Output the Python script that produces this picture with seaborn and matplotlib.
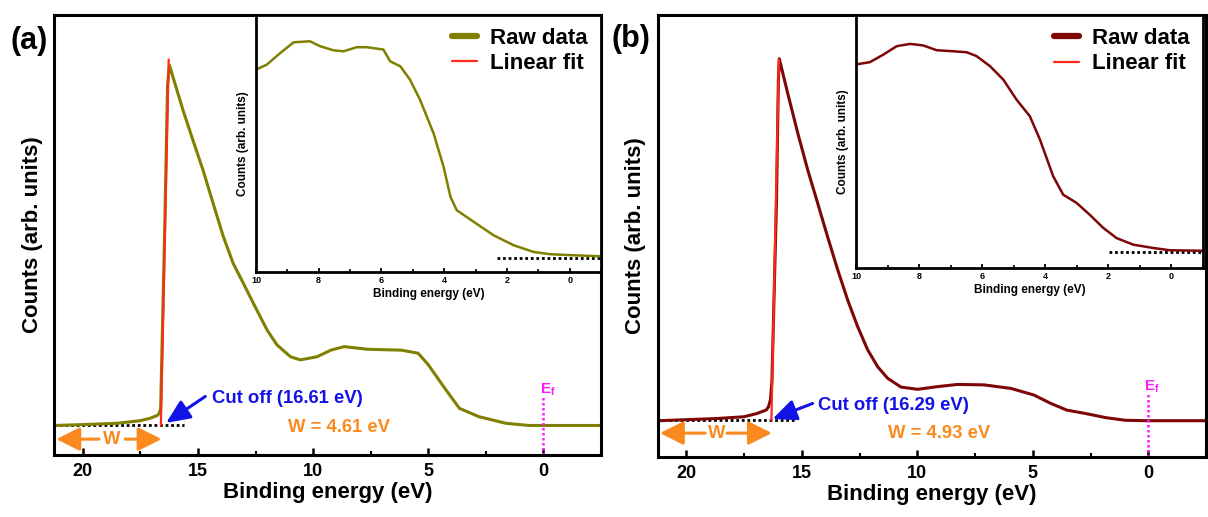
import matplotlib
matplotlib.use('Agg')
import matplotlib.pyplot as plt
import seaborn as sns
from matplotlib.lines import Line2D
from matplotlib.ticker import MultipleLocator, NullLocator

sns.set_theme(style='white')
plt.rcParams['font.family'] = ['Liberation Sans', 'DejaVu Sans']
plt.rcParams['font.weight'] = 'bold'
plt.rcParams['axes.labelweight'] = 'bold'
plt.rcParams['text.color'] = 'black'
plt.rcParams['axes.labelcolor'] = 'black'
plt.rcParams['xtick.color'] = 'black'
plt.rcParams['ytick.color'] = 'black'
plt.rcParams['mathtext.fontset'] = 'custom'
plt.rcParams['mathtext.rm'] = 'Liberation Sans:bold'
plt.rcParams['mathtext.it'] = 'Liberation Sans:bold'
plt.rcParams['mathtext.bf'] = 'Liberation Sans:bold'

# ---------------- data ----------------
# Panel (a) main spectrum
a_energy = [21.25, 20.0, 18.5, 17.5, 17.1, 16.75, 16.68, 16.62, 16.45, 16.32, 16.24, 15.65, 15.22,
            14.78, 14.34, 13.9, 13.47, 13.03, 12.59, 12.0, 11.57, 10.98, 10.55, 9.83, 9.23, 8.65,
            7.63, 6.17, 5.44, 5.0, 4.33, 3.65, 2.8, 1.63, 0.62, -1.0, -2.5]
a_counts = [6.7, 6.9, 7.2, 7.8, 8.3, 9.0, 9.5, 10.5, 50.0, 84.0, 88.5, 78.3, 71.5,
            64.7, 57.1, 49.6, 43.5, 39.0, 34.4, 28.4, 25.0, 22.3, 21.6, 22.3, 23.8, 24.6,
            24.0, 23.8, 23.1, 20.5, 15.5, 10.6, 8.7, 7.2, 6.7, 6.7, 6.7]
a_fit_energy = [16.61, 16.27]
a_fit_counts = [6.7, 89.8]
# Panel (a) inset spectrum
a_in_energy = [10.0, 9.66, 9.23, 8.8, 8.28, 7.96, 7.53, 7.21, 6.79, 6.47, 5.94, 5.72, 5.4, 5.09,
               4.77, 4.34, 4.02, 3.8, 3.6, 3.06, 2.43, 1.79, 1.15, 0.62, -0.13, -1.0]
a_in_counts = [78.6, 80.5, 85.0, 89.2, 89.6, 87.7, 86.1, 85.7, 87.3, 87.3, 86.4, 81.8, 79.9, 74.7,
               66.9, 53.9, 40.9, 29.2, 24.0, 19.5, 14.3, 10.4, 7.8, 6.9, 6.5, 6.1]

# Panel (b) main spectrum
b_energy = [21.2, 18.66, 17.5, 16.97, 16.55, 16.45, 16.36, 16.3, 16.1, 16.02, 15.98, 15.62, 15.18,
            14.75, 14.32, 13.89, 13.45, 13.02, 12.59, 12.15, 11.72, 11.29, 10.71, 9.99, 9.13,
            8.26, 7.11, 5.95, 4.95, 4.22, 3.53, 2.69, 1.85, 1.0, 0.0, -2.47]
b_counts = [8.2, 8.7, 9.1, 9.8, 10.6, 11.3, 13.0, 17.0, 58.0, 85.0, 90.0, 82.3, 73.2,
            64.9, 57.4, 49.8, 42.3, 35.5, 29.5, 24.2, 20.4, 17.8, 15.8, 15.3, 15.9,
            16.4, 16.3, 15.5, 14.0, 12.1, 10.6, 9.8, 8.9, 8.3, 8.2, 8.2]
b_fit_energy = [16.32, 16.0]
b_fit_counts = [8.3, 89.8]
# Panel (b) inset spectrum
b_in_energy = [10.0, 9.56, 9.13, 8.71, 8.29, 7.87, 7.44, 6.92, 6.49, 6.18, 5.75, 5.33, 4.91, 4.49,
               4.17, 3.75, 3.43, 3.01, 2.59, 2.16, 1.74, 1.21, 0.58, 0.05, -1.0]
b_in_counts = [80.3, 81.2, 84.2, 87.5, 88.4, 87.8, 85.9, 85.5, 85.1, 83.6, 79.6, 74.3, 66.4, 59.9,
               50.7, 36.2, 28.9, 25.7, 21.0, 15.8, 11.8, 9.2, 7.9, 7.0, 6.8]

panel_labels = ['(a)', '(b)']
cutoff_labels = ['Cut off (16.61 eV)', 'Cut off (16.29 eV)']
work_labels = ['W = 4.61 eV', 'W = 4.93 eV']
legend_labels = ['Raw data', 'Linear fit']
main_xticks = [20, 15, 10, 5, 0]
inset_xticks = [10, 8, 6, 4, 2, 0]

BLUE = '#1212e6'
ORANGE = '#fb8a1e'
MAGENTA = '#ff19ff'
FIT_RED = '#ff2a1a'

fig = plt.figure(figsize=(12.08, 5.17), dpi=100)
W, H = 1208, 517


def rect(l, r, t, b):
    return [l / W, 1 - b / H, (r - l) / W, (b - t) / H]


panels = [
    dict(main=rect(54, 601, 14.5, 455), inset=rect(256, 601, 14.5, 272), color='#808000',
         E=a_energy, I=a_counts, fE=a_fit_energy, fI=a_fit_counts, iE=a_in_energy, iI=a_in_counts,
         base=6.7, base_end=15.6, in_base=5.6, in_base_start=2.32,
         arrow_from=(14.68, 13.3), arrow_to=(16.38, 7.3), cut_xy=(14.4, 12.9),
         w_xy=(11.1, 6.3), wy=3.6, wc=18.75, wl=19.3, wr=18.16, wtipr=16.58,
         ef_top=13.6, ef_text=14.9, lab_xy=(29 / W, 1 - 41 / H)),
    dict(main=rect(657.6, 1206, 14.5, 457), inset=rect(856, 1203, 14.5, 268), color='#7d0606',
         E=b_energy, I=b_counts, fE=b_fit_energy, fI=b_fit_counts, iE=b_in_energy, iI=b_in_counts,
         base=8.3, base_end=15.3, in_base=6.3, in_base_start=1.97,
         arrow_from=(14.54, 12.1), arrow_to=(16.27, 8.6), cut_xy=(14.29, 11.7),
         w_xy=(11.26, 5.3), wy=5.4, wc=18.69, wl=19.19, wr=18.24, wtipr=16.3,
         ef_top=14.7, ef_text=15.9, lab_xy=(631 / W, 1 - 39 / H)),
]

for k, p in enumerate(panels):
    ax = fig.add_axes(p['main'])
    ax.set_facecolor('white')
    sns.lineplot(x=p['E'], y=p['I'], ax=ax, color=p['color'], lw=2.2, estimator=None, sort=False)
    sns.lineplot(x=p['fE'], y=p['fI'], ax=ax, color=FIT_RED, lw=1.6, estimator=None, sort=False)
    ax.set_xlim(21.25, -2.5)
    ax.set_ylim(0, 100)
    # baseline dotted line
    ax.plot([21.25, p['base_end']], [p['base'], p['base']], color='black', lw=2,
            ls=(0, (1, 1)), zorder=1)
    # Fermi level
    ax.plot([0, 0], [0, p['ef_top']], color=MAGENTA, lw=1.8, ls=(0, (1, 1)))
    ax.text(0.17, p['ef_text'], r'E$_\mathregular{f}$', color=MAGENTA, fontsize=11,
            fontweight='bold', ha='left', va='center')
    # cut-off arrow and text
    ax.annotate('', xy=p['arrow_to'], xytext=p['arrow_from'],
                arrowprops=dict(arrowstyle='-|>,head_length=0.9,head_width=0.4', color=BLUE,
                                lw=2.2, mutation_scale=16, shrinkA=0, shrinkB=0))
    ax.text(p['cut_xy'][0], p['cut_xy'][1], cutoff_labels[k], color=BLUE, fontsize=13.3,
            fontweight='bold', ha='left', va='center')
    ax.text(p['w_xy'][0], p['w_xy'][1], work_labels[k], color=ORANGE, fontsize=13.3,
            fontweight='bold', ha='left', va='center')
    # W double arrow
    ax.text(p['wc'], p['wy'], 'W', color=ORANGE, fontsize=13.3, fontweight='bold',
            ha='center', va='center')
    ax.annotate('', xy=(21.15, p['wy']), xytext=(p['wl'], p['wy']),
                arrowprops=dict(arrowstyle='-|>,head_length=0.9,head_width=0.45', color=ORANGE,
                                lw=2.2, mutation_scale=16, shrinkA=0, shrinkB=0))
    ax.annotate('', xy=(p['wtipr'], p['wy']), xytext=(p['wr'], p['wy']),
                arrowprops=dict(arrowstyle='-|>,head_length=0.9,head_width=0.45', color=ORANGE,
                                lw=2.2, mutation_scale=16, shrinkA=0, shrinkB=0))
    # axes styling
    ax.set_xticks(main_xticks)
    ax.set_xticklabels([str(t) for t in main_xticks], fontsize=13, fontweight='bold')
    ax.xaxis.set_minor_locator(MultipleLocator(2.5))
    ax.yaxis.set_major_locator(NullLocator())
    ax.tick_params(axis='x', which='major', direction='in', length=5, width=1.8, pad=6,
                   bottom=True, colors='black')
    ax.tick_params(axis='x', which='minor', direction='in', length=3, width=1.5, bottom=True)
    ax.set_xlabel('Binding energy (eV)', fontsize=16, fontweight='bold', labelpad=1, color='black')
    ax.set_ylabel('Counts (arb. units)', fontsize=16, fontweight='bold', labelpad=8, color='black')
    for s in ax.spines.values():
        s.set_color('black')
        s.set_linewidth(2.2)
        s.set_visible(True)
    ax.grid(False)

    # inset
    ins = fig.add_axes(p['inset'])
    ins.set_facecolor('white')
    sns.lineplot(x=p['iE'], y=p['iI'], ax=ins, color=p['color'], lw=1.8, estimator=None, sort=False)
    ins.plot([p['in_base_start'], -1.0], [p['in_base'], p['in_base']], color='black', lw=2,
             ls=(0, (1, 1)), zorder=1)
    ins.set_xlim(10, -1)
    ins.set_ylim(0, 100)
    ins.set_xticks(inset_xticks)
    ins.set_xticklabels([str(t) for t in inset_xticks], fontsize=6.5, fontweight='bold')
    ins.xaxis.set_minor_locator(MultipleLocator(1))
    ins.yaxis.set_major_locator(NullLocator())
    ins.tick_params(axis='x', which='major', direction='in', length=3, width=1.3, pad=3,
                    bottom=True, colors='black')
    ins.tick_params(axis='x', which='minor', direction='in', length=2, width=1.2, bottom=True)
    ins.set_xlabel('Binding energy (eV)', fontsize=8.5, fontweight='bold', labelpad=2)
    ins.set_ylabel('Counts (arb. units)', fontsize=8.5, fontweight='bold', labelpad=5)
    for s in ins.spines.values():
        s.set_color('black')
        s.set_linewidth(2.0)
        s.set_visible(True)
    ins.grid(False)
    handles = [Line2D([], [], color=p['color'], lw=4.5, solid_capstyle='round'),
               Line2D([], [], color=FIT_RED, lw=1.6)]
    leg = ins.legend(handles, legend_labels, loc='upper right', frameon=False,
                     prop={'weight': 'bold', 'size': 16}, handlelength=1.1, handletextpad=0.6,
                     labelspacing=0.2, borderaxespad=0.3, borderpad=0.3)
    for t in leg.get_texts():
        t.set_color('black')

    fig.text(p['lab_xy'][0], p['lab_xy'][1], panel_labels[k], fontsize=22, fontweight='bold',
             ha='center', va='center', color='black')

fig.savefig('out.png', dpi=100)
